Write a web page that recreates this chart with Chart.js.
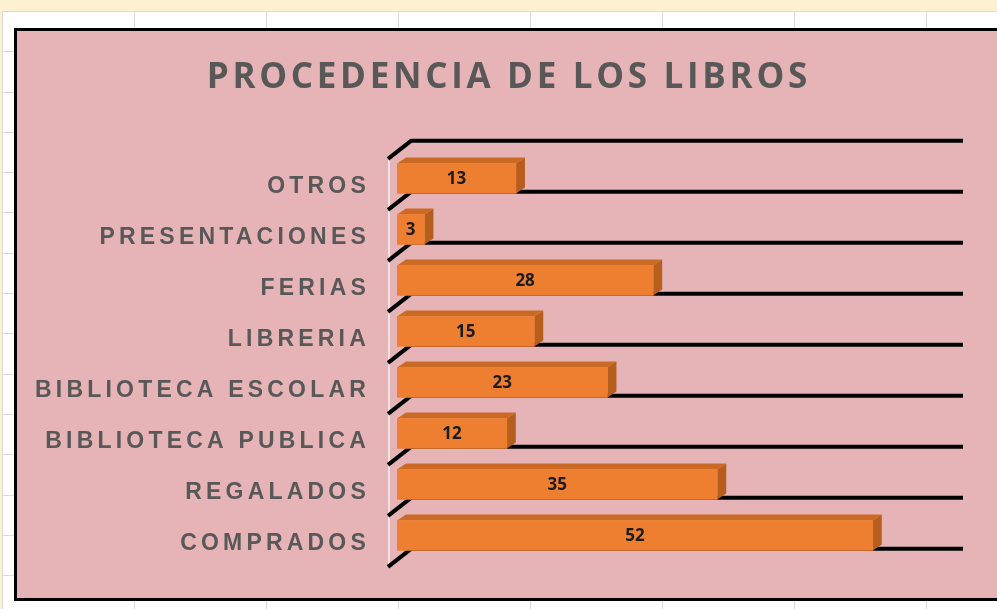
<!DOCTYPE html>
<html><head><meta charset="utf-8">
<script src="https://cdn.jsdelivr.net/npm/chart.js@4.4.0/dist/chart.umd.min.js"></script>
<style>
html,body{margin:0;padding:0;width:997px;height:609px;overflow:hidden;background:#fff;}
#sheet{position:absolute;left:2px;top:11px;width:1000px;height:600px;
 background-image:repeating-linear-gradient(90deg,#d9d9d9 0 1px,transparent 1px 132px),
 repeating-linear-gradient(180deg,#d9d9d9 0 1px,transparent 1px 40.3px);}
#ribbon{position:absolute;left:0;top:0;width:997px;height:11px;background:#fdf1d2;}
#rowhdr{position:absolute;left:0;top:0;width:2px;height:609px;background:#fdf1d2;}
#box{position:absolute;left:14px;top:28px;width:1000px;height:567px;border:3px solid #000;background:#e6b4b6;}
#c{position:absolute;left:0;top:0;}
</style></head>
<body>
<div id="ribbon"></div><div id="rowhdr"></div><div id="sheet"></div>
<div id="box"><canvas id="c" width="980" height="567"></canvas></div>
<script>
const TITLE = 'PROCEDENCIA DE LOS LIBROS';
const categories = ['OTROS','PRESENTACIONES','FERIAS','LIBRERIA','BIBLIOTECA ESCOLAR','BIBLIOTECA PUBLICA','REGALADOS','COMPRADOS'];
const values = [13, 3, 28, 15, 23, 12, 35, 52];
const axisMin = 0, axisMax = 60;

const FRONT = '#ee7f31', TOP = '#cb6a24', SIDE = '#b65e1e';
const DEPTH_X = 9, DEPTH_Y = -6, BAR_SHIFT = -8.5, LINE_OFF = 4.8;

const bar3d = {
  id: 'bar3d',
  beforeDraw(chart) {
    const ctx = chart.ctx;
    ctx.save();
    ctx.letterSpacing = '3.7px';
    ctx.font = 'bold 35px "Open Sans"';
    ctx.fillStyle = '#585858';
    ctx.textAlign = 'center';
    ctx.textBaseline = 'alphabetic';
    ctx.fillText(TITLE, chart.width / 2 + 1.85, 57.3);
    ctx.restore();
    ctx.letterSpacing = '4.2px';
  },
  beforeDatasetsDraw(chart) {
    const ctx = chart.ctx, xs = chart.scales.x, ys = chart.scales.y;
    const x0 = xs.getPixelForValue(axisMin), xe = xs.getPixelForValue(axisMax);
    const band = ys.getPixelForValue(1) - ys.getPixelForValue(0);
    const lines = [ys.getPixelForValue(0) - band + LINE_OFF];
    for (let k = 0; k < categories.length; k++) lines.push(ys.getPixelForValue(k) + LINE_OFF);
    ctx.save();
    ctx.letterSpacing = '0px';
    ctx.strokeStyle = 'rgba(240,232,232,0.9)';
    ctx.lineWidth = 2;
    ctx.beginPath();
    ctx.moveTo(x0 - 8, lines[0] + 18);
    ctx.lineTo(x0 - 8, lines[lines.length - 1] + 18);
    ctx.stroke();
    ctx.strokeStyle = '#000';
    ctx.lineWidth = 4;
    ctx.lineJoin = 'round';
    for (const yc of lines) {
      ctx.beginPath();
      ctx.moveTo(x0 - 9, yc + 18);
      ctx.lineTo(x0 + 14, yc);
      ctx.lineTo(xe + 17, yc);
      ctx.stroke();
    }
    ctx.restore();
    ctx.save();
    ctx.translate(0, BAR_SHIFT);
    const meta = chart.getDatasetMeta(0);
    meta.data.forEach(b => {
      const left = b.base, right = b.x, top = b.y - b.height / 2, bot = b.y + b.height / 2;
      ctx.fillStyle = TOP;
      ctx.beginPath();
      ctx.moveTo(left, top);
      ctx.lineTo(left + DEPTH_X, top + DEPTH_Y);
      ctx.lineTo(right + DEPTH_X, top + DEPTH_Y);
      ctx.lineTo(right, top);
      ctx.closePath();
      ctx.fill();
      ctx.fillStyle = SIDE;
      ctx.beginPath();
      ctx.moveTo(right, top);
      ctx.lineTo(right + DEPTH_X, top + DEPTH_Y);
      ctx.lineTo(right + DEPTH_X, bot + DEPTH_Y);
      ctx.lineTo(right, bot);
      ctx.closePath();
      ctx.fill();
    });
  },
  afterDatasetsDraw(chart) {
    const ctx = chart.ctx;
    const meta = chart.getDatasetMeta(0);
    ctx.letterSpacing = '0px';
    ctx.font = 'bold 17px "Open Sans"';
    ctx.fillStyle = '#1b1b1b';
    ctx.textAlign = 'center';
    ctx.textBaseline = 'middle';
    meta.data.forEach((b, i) => {
      ctx.fillText(String(values[i]), (b.base + b.x) / 2, b.y + 1);
    });
    ctx.restore();
  }
};

new Chart(document.getElementById('c'), {
  type: 'bar',
  data: {
    labels: categories,
    datasets: [{ data: values, backgroundColor: FRONT, barThickness: 30, borderWidth: 0 }]
  },
  options: {
    indexAxis: 'y',
    responsive: false,
    animation: false,
    layout: { padding: { top: 130.5, bottom: 28.5, left: 0, right: 51 } },
    plugins: { legend: { display: false }, title: { display: false }, tooltip: { enabled: false } },
    scales: {
      x: { display: false, min: axisMin, max: axisMax },
      y: {
        grid: { display: false, drawTicks: false },
        border: { display: false },
        ticks: { color: '#585858', font: { family: '"Liberation Sans", Arial', weight: 'bold', size: 23 }, padding: 27 },
        afterFit(s) { s.width = 380; s.paddingTop = 0; s.paddingBottom = 0; }
      }
    }
  },
  plugins: [bar3d]
});
</script>
</body></html>
